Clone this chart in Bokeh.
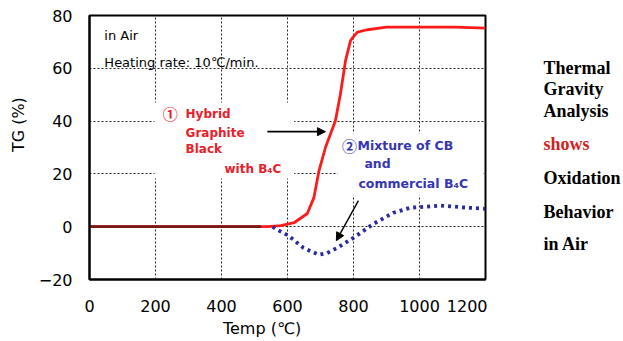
from bokeh.plotting import figure
from bokeh.layouts import row
from bokeh.models import Label, Arrow, NormalHead, BoxAnnotation, FixedTicker, Range1d
from bokeh.embed import file_html
from bokeh.resources import INLINE

# ---- data ----
x_ticks = [0, 200, 400, 600, 800, 1000, 1200]
y_ticks = [-20, 0, 20, 40, 60, 80]

hybrid_temp = [0, 100, 200, 300, 400, 500, 520, 540, 580, 620, 660, 680, 695, 715, 730,
               745, 760, 776, 791, 800, 812, 842, 900, 1000, 1110, 1200]
hybrid_tg = [0, 0, 0, 0, 0, 0, 0, 0, 0.4, 1.5, 5, 11, 21, 30, 35,
             40, 50, 63, 70.5, 72, 73.7, 74.6, 75.6, 75.6, 75.6, 75.2]

mixture_temp = [555, 564, 603, 648, 694, 720, 751, 800, 861, 921, 973, 1064, 1145, 1200]
mixture_tg = [0, -0.8, -3.4, -8, -10.6, -10, -8, -4.2, 1.1, 5.3, 7.2, 8, 7.2, 6.8]

side_lines = ["Thermal", "Gravity", "Analysis", "shows", "Oxidation", "Behavior", "in Air"]
side_colors = ["black", "black", "black", "#d62020", "black", "black", "black"]
side_y = [67, 88, 110, 143, 177, 211, 243]

NB = "\u00a0"

p = figure(width=487, height=341, output_backend="svg", toolbar_location=None,
           x_range=Range1d(0, 1200), y_range=Range1d(-20, 80),
           min_border_left=89, min_border_right=2, min_border_top=15, min_border_bottom=62)
p.background_fill_color = "white"
p.border_fill_color = "white"
p.outline_line_color = "black"
p.outline_line_width = 2

for ax in (p.xaxis[0], p.yaxis[0]):
    ax.axis_line_color = "black"
    ax.axis_line_width = 2
    ax.major_tick_line_color = None
    ax.minor_tick_line_color = None
    ax.major_tick_out = 0
    ax.major_tick_in = 0
    ax.major_label_text_font = "DejaVu Sans"
    ax.major_label_text_font_size = "16px"
    ax.major_label_text_color = "black"
    ax.axis_label_text_font = "DejaVu Sans"
    ax.axis_label_text_font_size = "16px"
    ax.axis_label_text_font_style = "normal"
    ax.axis_label_text_color = "black"
p.xaxis.ticker = FixedTicker(ticks=x_ticks)
p.yaxis.ticker = FixedTicker(ticks=y_ticks)
p.xaxis.major_label_standoff = 20
p.yaxis.major_label_standoff = 17
p.yaxis.major_label_overrides = {-20: "\u221220"}
p.yaxis.axis_label = NB * 9 + "TG (%)"
p.yaxis.axis_label_standoff = 8
p.xaxis.axis_label = "Temp (\u2103)" + NB * 10
p.xaxis.axis_label_standoff = 4

p.xgrid.ticker = FixedTicker(ticks=x_ticks)
p.ygrid.ticker = FixedTicker(ticks=y_ticks)
for g in (p.xgrid[0], p.ygrid[0]):
    g.grid_line_color = "black"
    g.grid_line_alpha = 0.85
    g.grid_line_dash = "2 2"
    g.grid_line_width = 1

# curves
p.line(hybrid_temp, hybrid_tg, line_color="#ff1a1a", line_width=2.8)
p.line(hybrid_temp[:7], hybrid_tg[:7], line_color="#7a1818", line_width=2.8)
p.line(mixture_temp, mixture_tg, line_color="#2b2ba0", line_width=3.8, line_dash="3 4")

# white text backgrounds
p.add_layout(BoxAnnotation(left=197, right=620, bottom=18.3, top=47,
                           fill_color="white", fill_alpha=1, line_color=None))
p.add_layout(BoxAnnotation(left=752, right=1193, bottom=11.8, top=35.3,
                           fill_color="white", fill_alpha=1, line_color=None))


def lab(fig, x, y, t, color="black", size="12px", font="DejaVu Sans", style="normal",
        align="left"):
    fig.add_layout(Label(x=x, y=y, text=t, text_color=color, text_font_size=size,
                         text_font=font, text_font_style=style, text_align=align,
                         text_baseline="middle"))


lab(p, 45, 72.4, "in  Air", size="13px")
lab(p, 45, 62.2, "Heating rate: 10\u2103/min.", size="13px")

red_t = "#e8202a"
lab(p, 222, 42.8, "\u2460", color=red_t, size="15px", font="Noto Sans CJK JP", style="bold")
lab(p, 291, 42.8, "Hybrid", color=red_t, style="bold")
lab(p, 291, 35.6, "Graphite", color=red_t, style="bold")
lab(p, 291, 29.6, "Black", color=red_t, style="bold")
lab(p, 409, 22, "with B\u2084C", color=red_t, style="bold")

blue_t = "#3636b0"
lab(p, 765, 30.7, "\u2461", color=blue_t, size="15px", font="Noto Sans CJK JP", style="bold")
lab(p, 812, 30.7, "Mixture of CB", color=blue_t, style="bold", size="12.5px")
lab(p, 833, 23.9, "and", color=blue_t, style="bold", size="12.5px")
lab(p, 815, 16.3, "commercial B\u2084C", color=blue_t, style="bold", size="12.5px")

p.add_layout(Arrow(x_start=539, y_start=36, x_end=715, y_end=36, line_color="black",
                   line_width=1.6, end=NormalHead(size=8, fill_color="black", line_color="black")))
p.add_layout(Arrow(x_start=815, y_start=9.9, x_end=748, y_end=-5.3, line_color="black",
                   line_width=1.4, end=NormalHead(size=8, fill_color="black", line_color="black")))

# right-hand text panel; its frame is aligned with the main frame (px 15..279)
p2 = figure(width=136, height=341, output_backend="svg", toolbar_location=None,
            x_range=Range1d(0, 136), y_range=Range1d(279, 15),
            x_axis_type=None, y_axis_type=None,
            min_border_left=0, min_border_right=0, min_border_top=15, min_border_bottom=62)
p2.outline_line_color = None
p2.background_fill_color = "white"
p2.border_fill_color = "white"
p2.xgrid.visible = False
p2.ygrid.visible = False
for t, c, yy in zip(side_lines, side_colors, side_y):
    lab(p2, 56, yy, t, color=c, size="18px", font="Liberation Serif", style="bold")

layout = row(p, p2, spacing=0)
open("out.html", "w").write(file_html(layout, INLINE))
